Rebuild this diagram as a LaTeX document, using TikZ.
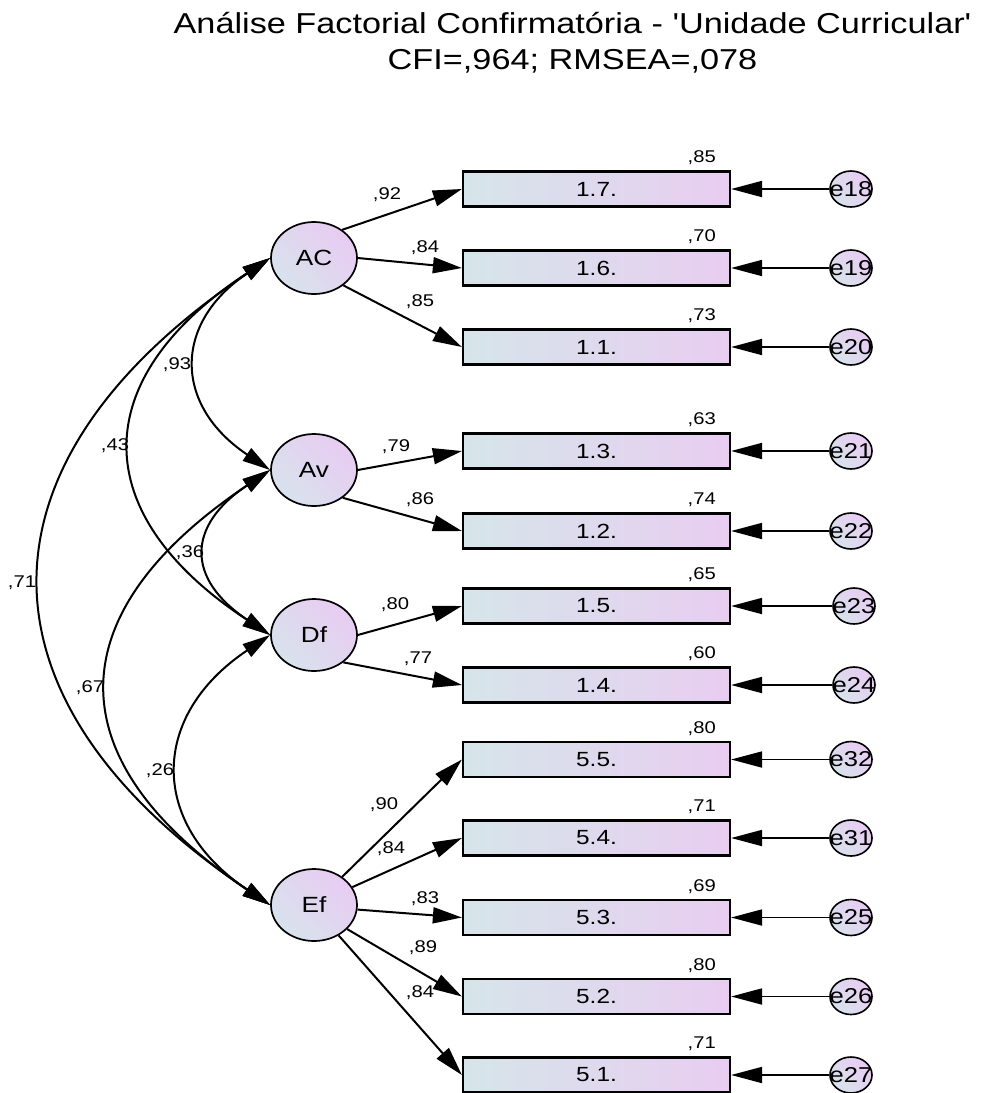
\documentclass[tikz,border=0pt]{standalone}
\usepackage{fontspec}
\setmainfont{Liberation Sans}[FakeStretch=1.19,Ligatures=TeXOff]
\usetikzlibrary{arrows.meta,shapes.geometric}
\definecolor{boxL}{RGB}{214,229,233}
\definecolor{boxR}{RGB}{232,205,241}
\definecolor{latL}{RGB}{216,226,236}
\definecolor{latR}{RGB}{232,204,242}
\begin{document}
\begin{tikzpicture}[x=1pt,y=-1pt,
  latent/.style={ellipse,draw,line width=1.7pt,minimum width=86pt,minimum height=72pt,inner sep=0pt,
    left color=latL,right color=latR,shading angle=135,font=\fontsize{22}{24}\selectfont},
  obsbox/.style={rectangle,draw,line width=2.2pt,minimum width=267pt,minimum height=35pt,inner sep=0pt,
    left color=boxL,right color=boxR,font=\fontsize{20.5}{22}\selectfont},
  errc/.style={ellipse,draw,line width=1.6pt,minimum width=42pt,minimum height=36pt,inner sep=0pt,
    left color=latL,right color=latR,shading angle=135,font=\fontsize{21.5}{22}\selectfont},
  coef/.style={inner sep=0pt,font=\fontsize{17}{18}\selectfont},
  rsq/.style={coef,anchor=base east},
  load/.style={line width=2pt,-{Triangle[length=29pt,width=16pt]}},
  errarr/.style={line width=1.8pt,-{Triangle[length=31pt,width=16pt]}},
  cov/.style={line width=2pt,{Triangle[length=28pt,width=15pt]}-{Triangle[length=28pt,width=15pt]}}
]
\useasboundingbox (0,0) rectangle (984,1093);

% title
\node[anchor=base,inner sep=0pt,font=\fontsize{28.8}{32}\selectfont] (t1) at (572.5,33) {Análise Factorial Confirmatória - 'Unidade Curricular'};
\node[anchor=base,inner sep=0pt,font=\fontsize{28.8}{32}\selectfont] (t2) at (572.5,69) {CFI=,964; RMSEA=,078};

% latent variables
\node[latent] (AC) at (314,258) {AC};
\node[latent] (Av) at (314,470) {Av};
\node[latent] (Df) at (314,635) {Df};
\node[latent] (Ef) at (314,905) {Ef};

% observed boxes, errors, R2
\foreach \n/\lab/\cy/\r/\e/\ex in {
  b17/1.7./189/{,85}/e18/851,
  b16/1.6./268/{,70}/e19/851,
  b11/1.1./347/{,73}/e20/851,
  b13/1.3./451/{,63}/e21/851,
  b12/1.2./531/{,74}/e22/851,
  b15/1.5./606/{,65}/e23/854,
  b14/1.4./685/{,60}/e24/854,
  b55/5.5./759.5/{,80}/e32/851,
  b54/5.4./838/{,71}/e31/851,
  b53/5.3./917.5/{,69}/e25/851,
  b52/5.2./996.5/{,80}/e26/851,
  b51/5.1./1075/{,71}/e27/851}{
  \node[obsbox] (\n) at (596.5,\cy) {\lab};
  \node[errc] (\e) at (\ex,\cy) {\makebox[0pt][c]{\e}};
  \node[rsq] (r\n) at (716,\cy-26.5) {\r};
  \draw[errarr] (\e) -- (\n);
}

% loadings
\draw[load] (AC.45) -- (b17.west);
\draw[load] (AC.0) -- (b16.west);
\draw[load] (AC.-43) -- (b11.west);
\draw[load] (Av.0) -- (b13.west);
\draw[load] (Av.-44) -- (b12.west);
\draw[load] (Df.0) -- (b15.west);
\draw[load] (Df.-43) -- (b14.west);
\draw[load] (Ef.45) -- (b55.west);
\draw[load] (Ef.25) -- (b54.west);
\draw[load] (Ef.-6) -- (b53.west);
\draw[load] (Ef.-36) -- (b52.west);
\draw[load] (Ef.-51) -- (b51.west);

\node[coef] (l17) at (387,195) {,92};
\node[coef] (l16) at (425,248) {,84};
\node[coef] (l11) at (420,302) {,85};
\node[coef] (l13) at (396,447) {,79};
\node[coef] (l12) at (420,500) {,86};
\node[coef] (l15) at (395,605) {,80};
\node[coef] (l14) at (418,659) {,77};
\node[coef] (l55) at (384,805) {,90};
\node[coef] (l54) at (391,849) {,84};
\node[coef] (l53) at (425,899) {,83};
\node[coef] (l52) at (423,948) {,89};
\node[coef] (l51) at (420,993) {,84};

% covariances
\draw[cov] (AC.west) .. controls +(-97,65) and +(-97,-65) .. (Av.west);
\draw[cov] (AC.west) .. controls +(-184,121) and +(-184,-121) .. (Df.west);
\draw[cov] (AC.west) .. controls +(-304,204) and +(-304,-204) .. (Ef.west);
\draw[cov] (Av.west) .. controls +(-84,56) and +(-84,-56) .. (Df.west);
\draw[cov] (Av.west) .. controls +(-215,144) and +(-215,-144) .. (Ef.west);
\draw[cov] (Df.west) .. controls +(-121,81) and +(-121,-81) .. (Ef.west);

\node[coef] (c93) at (177,365) {,93};
\node[coef] (c43) at (115,446) {,43};
\node[coef] (c71) at (22,583) {,71};
\node[coef] (c36) at (190,553) {,36};
\node[coef] (c67) at (90,688) {,67};
\node[coef] (c26) at (160,771) {,26};
\end{tikzpicture}
\end{document}
